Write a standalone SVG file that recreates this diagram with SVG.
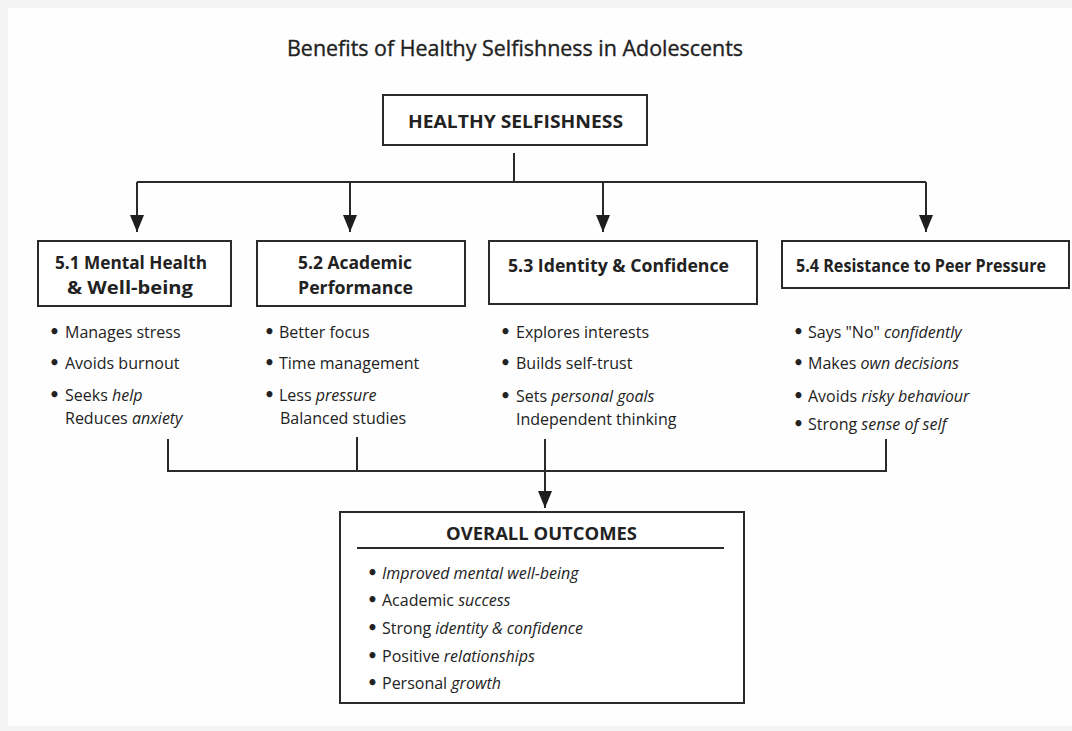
<svg xmlns="http://www.w3.org/2000/svg" width="1072" height="731" viewBox="0 0 1072 731">
<defs>
<marker id="arr" viewBox="0 0 17 14" refX="17" refY="7" markerWidth="17" markerHeight="14" markerUnits="userSpaceOnUse" orient="auto">
<path d="M0,0 L17,7 L0,14 z" fill="#1e1e1e"/>
</marker>
<style>
text{font-family:"Open Sans","Liberation Sans",sans-serif;fill:#222;}
.title{font-size:21px;stroke:#222;stroke-width:0.35;}
.hd{font-size:17px;font-weight:bold;}
.it{font-size:16px;}
.i{font-style:italic;}
.b{font-family:"DejaVu Sans",sans-serif;font-size:17px;font-weight:bold;}
.box{fill:#fff;stroke:#2a2a2a;stroke-width:2;}
.ln{fill:none;stroke:#2a2a2a;stroke-width:2;}
</style>
</defs>
<rect x="0" y="0" width="1072" height="731" fill="#f3f3f3"/>
<rect x="8" y="8" width="1064" height="718" fill="#fefefe"/>
<text class="title" x="287" y="56" textLength="456" lengthAdjust="spacingAndGlyphs">Benefits of Healthy Selfishness in Adolescents</text>

<g id="connectors">
<path class="ln" d="M514,153 V182 M137,182 H926"/>
<path class="ln" d="M137,182 V232" marker-end="url(#arr)"/>
<path class="ln" d="M350,182 V232" marker-end="url(#arr)"/>
<path class="ln" d="M603,182 V232" marker-end="url(#arr)"/>
<path class="ln" d="M926,182 V232" marker-end="url(#arr)"/>
<path class="ln" d="M168,439 V471 H886 V439 M357,437 V471"/>
<path class="ln" d="M545,439 V508" marker-end="url(#arr)"/>
</g>

<g id="root">
<rect class="box" x="383" y="95" width="264" height="50"/>
<text class="hd" x="408" y="128" textLength="215" lengthAdjust="spacingAndGlyphs">HEALTHY SELFISHNESS</text>
</g>

<g id="n51">
<rect class="box" x="38" y="241" width="193" height="65"/>
<text class="hd" x="55" y="269" textLength="152" lengthAdjust="spacingAndGlyphs">5.1 Mental Health</text>
<text class="hd" x="67" y="294" textLength="126" lengthAdjust="spacingAndGlyphs">&amp; Well-being</text>
<text class="it"><tspan class="b" x="49" y="338">•</tspan><tspan x="65" y="338">Manages stress</tspan></text>
<text class="it"><tspan class="b" x="49" y="369">•</tspan><tspan x="65" y="369">Avoids burnout</tspan></text>
<text class="it"><tspan class="b" x="49" y="401">•</tspan><tspan x="65" y="401">Seeks <tspan class="i">help</tspan></tspan></text>
<text class="it" x="65" y="424">Reduces <tspan class="i">anxiety</tspan></text>
</g>

<g id="n52">
<rect class="box" x="257" y="241" width="208" height="65"/>
<text class="hd" x="298" y="269" textLength="114" lengthAdjust="spacingAndGlyphs">5.2 Academic</text>
<text class="hd" x="298" y="294" textLength="115" lengthAdjust="spacingAndGlyphs">Performance</text>
<text class="it"><tspan class="b" x="264" y="338">•</tspan><tspan x="279" y="338">Better focus</tspan></text>
<text class="it"><tspan class="b" x="264" y="369">•</tspan><tspan x="279" y="369">Time management</tspan></text>
<text class="it"><tspan class="b" x="264" y="401">•</tspan><tspan x="279" y="401">Less <tspan class="i">pressure</tspan></tspan></text>
<text class="it" x="280" y="424">Balanced studies</text>
</g>

<g id="n53">
<rect class="box" x="489" y="241" width="268" height="63"/>
<text class="hd" x="508" y="272" textLength="221" lengthAdjust="spacingAndGlyphs">5.3 Identity &amp; Confidence</text>
<text class="it"><tspan class="b" x="500" y="338">•</tspan><tspan x="516" y="338">Explores interests</tspan></text>
<text class="it"><tspan class="b" x="500" y="369">•</tspan><tspan x="516" y="369">Builds self-trust</tspan></text>
<text class="it"><tspan class="b" x="500" y="402">•</tspan><tspan x="516" y="402">Sets <tspan class="i">personal goals</tspan></tspan></text>
<text class="it" x="516" y="425">Independent thinking</text>
</g>

<g id="n54">
<rect class="box" x="782" y="241" width="287" height="47"/>
<text class="hd" x="796" y="272" textLength="250" lengthAdjust="spacingAndGlyphs">5.4 Resistance to Peer Pressure</text>
<text class="it"><tspan class="b" x="793" y="338">•</tspan><tspan x="808" y="338">Says "No" <tspan class="i">confidently</tspan></tspan></text>
<text class="it"><tspan class="b" x="793" y="369">•</tspan><tspan x="808" y="369">Makes <tspan class="i">own decisions</tspan></tspan></text>
<text class="it"><tspan class="b" x="793" y="402">•</tspan><tspan x="808" y="402">Avoids <tspan class="i">risky behaviour</tspan></tspan></text>
<text class="it"><tspan class="b" x="793" y="430">•</tspan><tspan x="808" y="430">Strong <tspan class="i">sense of self</tspan></tspan></text>
</g>

<g id="outcomes">
<rect class="box" x="340" y="512" width="404" height="191"/>
<text class="hd" x="446" y="540" textLength="191" lengthAdjust="spacingAndGlyphs">OVERALL OUTCOMES</text>
<path class="ln" d="M357,548 H724" stroke-width="1.5"/>
<text class="it"><tspan class="b" x="367" y="579">•</tspan><tspan x="382" y="579" class="i">Improved mental well-being</tspan></text>
<text class="it"><tspan class="b" x="367" y="606">•</tspan><tspan x="382" y="606">Academic <tspan class="i">success</tspan></tspan></text>
<text class="it"><tspan class="b" x="367" y="634">•</tspan><tspan x="382" y="634">Strong <tspan class="i">identity &amp; confidence</tspan></tspan></text>
<text class="it"><tspan class="b" x="367" y="662">•</tspan><tspan x="382" y="662">Positive <tspan class="i">relationships</tspan></tspan></text>
<text class="it"><tspan class="b" x="367" y="689">•</tspan><tspan x="382" y="689">Personal <tspan class="i">growth</tspan></tspan></text>
</g>
</svg>
